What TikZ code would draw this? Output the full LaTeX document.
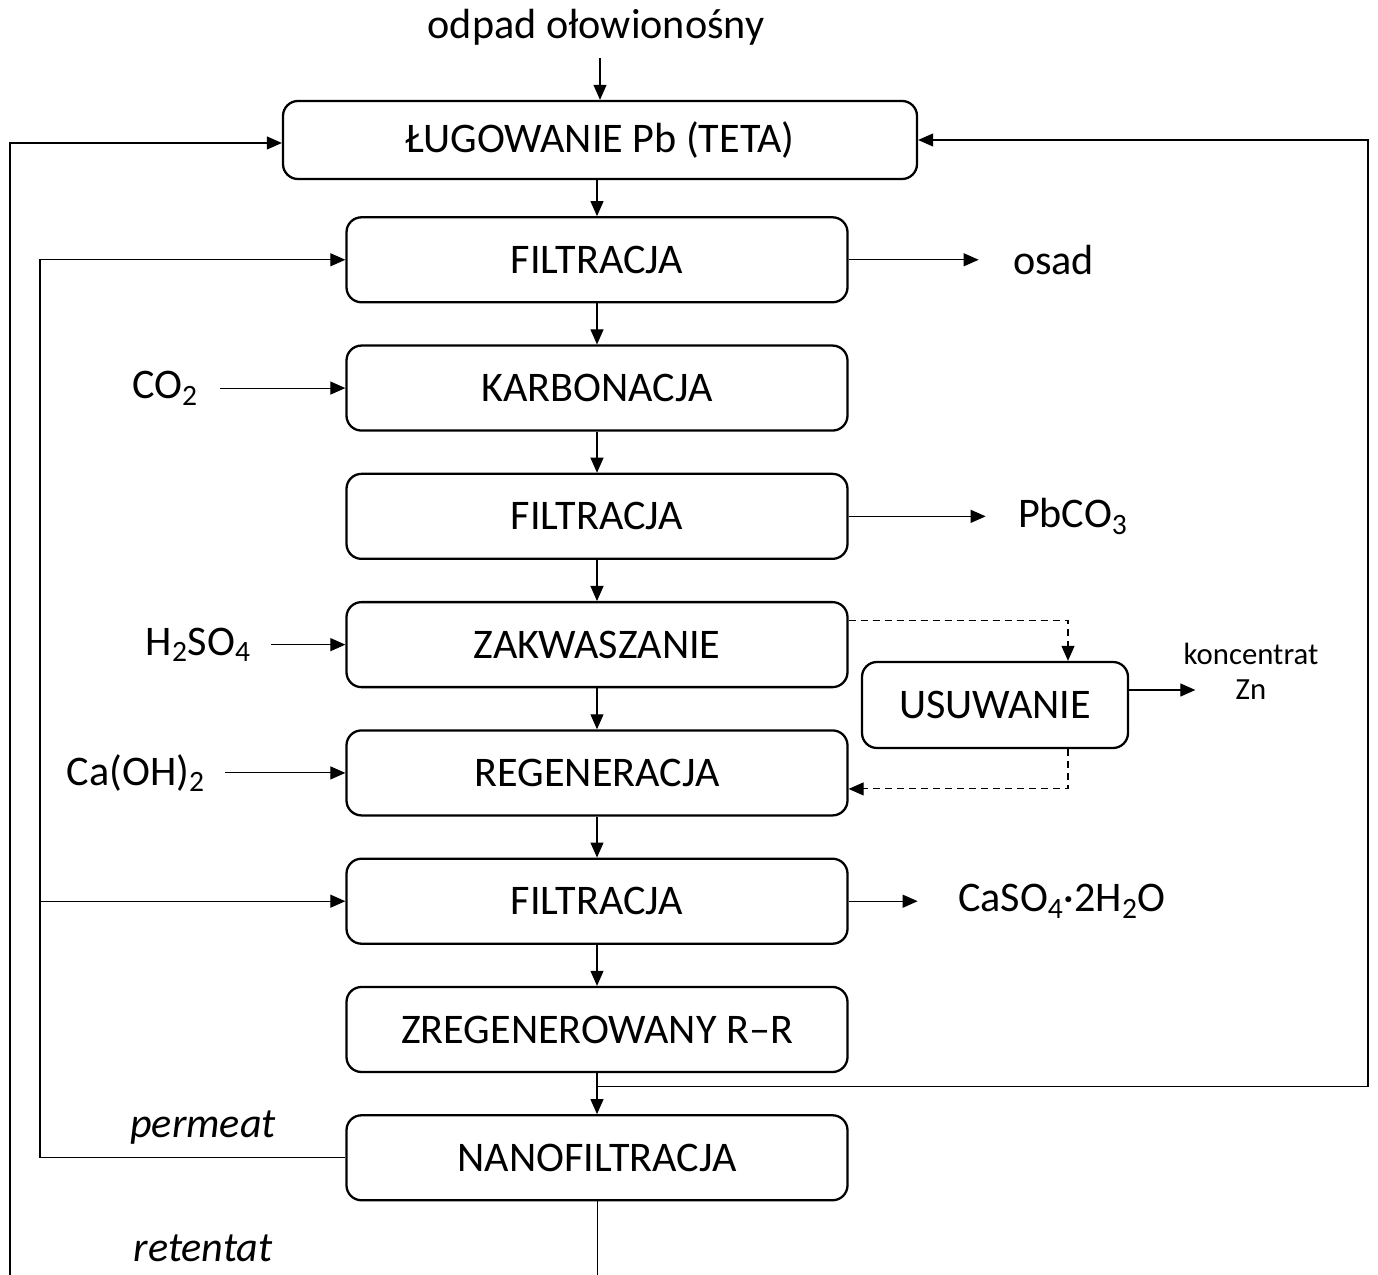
\documentclass[tikz,border=0pt]{standalone}
\usepackage{fontspec}
\setmainfont{Carlito}
\usetikzlibrary{positioning,arrows.meta}

\begin{document}
\begin{tikzpicture}[
    node distance=0.82cm,
    stage/.style={rectangle, draw, line width=1.3pt, rounded corners=0.3cm, minimum width=10.02cm, minimum height=1.7cm, font=\fontsize{24}{28}\selectfont},
    stream/.style={inner sep=0pt, font=\fontsize{24}{28}\selectfont},
    small/.style={inner sep=0pt, font=\fontsize{17.5}{21}\selectfont},
    arrow/.style={-{Triangle[length=0.3cm,width=0.26cm]}, line width=0.6pt},
    dasharrow/.style={arrow, dash pattern=on 0.14cm off 0.1cm}
]
\useasboundingbox (0,0) rectangle (27.56,-25.5);

% Main line
\node[stage, minimum width=12.68cm, minimum height=1.56cm] (lug) at (12.0,-2.8) {ŁUGOWANIE Pb (TETA)};
\node[stage, below=0.72cm of lug, xshift=-0.06cm] (filt1) {FILTRACJA};
\node[stage, below=of filt1] (karb) {KARBONACJA};
\node[stage, below=of karb] (filt2) {FILTRACJA};
\node[stage, below=of filt2] (zakw) {ZAKWASZANIE};
\node[stage, below=of zakw] (regen) {REGENERACJA};
\node[stage, below=of regen] (filt3) {FILTRACJA};
\node[stage, below=of filt3] (zreg) {ZREGENEROWANY R–R};
\node[stage, below=of zreg] (nano) {NANOFILTRACJA};

% Zn removal
\node[stage, minimum width=5.32cm, minimum height=1.72cm] (usuw) at (19.9,-14.1) {USUWANIE};

% Streams in and out
\node[stream] (odpad) at (11.92,-0.54) {odpad ołowionośny};
\node[stream, right=3.28cm of filt1] (osad) {osad};
\node[stream, left=2.94cm of karb] (co2) {CO\textsubscript{2}};
\node[stream, right=3.38cm of filt2] (pbco3) {PbCO\textsubscript{3}};
\node[stream, left=1.88cm of zakw] (h2so4) {H\textsubscript{2}SO\textsubscript{4}};
\node[stream, left=2.8cm of regen] (caoh) {Ca(OH)\textsubscript{2}};
\node[stream, right=2.18cm of filt3] (gips) {CaSO\textsubscript{4}·2H\textsubscript{2}O};
\node[small] (zn) at (25.02,-13.8) {Zn};
\node[small, above=0.3cm of zn] (konc) {koncentrat};
\node[stream, font=\fontsize{24}{28}\selectfont\itshape] (perm) at (4.06,-22.56) {permeat};
\node[stream, font=\fontsize{24}{28}\selectfont\itshape] (ret) at (4.06,-24.96) {retentat};

% Loop points
\coordinate (lbus) at (0.2,-25.5);
\coordinate (pbus) at (0.8,0);
\coordinate (rbus) at (27.36,0);

% Arrows down
\draw[arrow] ([yshift=-0.25cm]odpad.south -| lug.north) -- (lug.north);
\draw[arrow] (lug.south -| filt1.north) -- (filt1.north);
\draw[arrow] (filt1) -- (karb);
\draw[arrow] (karb) -- (filt2);
\draw[arrow] (filt2) -- (zakw);
\draw[arrow] (zakw) -- (regen);
\draw[arrow] (regen) -- (filt3);
\draw[arrow] (filt3) -- (zreg);
\draw[arrow] (zreg) -- (nano);
\draw (nano.south) -- (nano.south |- lbus);

% Side streams
\draw[arrow, shorten >=0.68cm] (filt1.east) -- (osad.west);
\draw[arrow, shorten <=0.44cm] (co2.east) -- (karb.west);
\draw[arrow, shorten >=0.64cm] (filt2.east) -- (filt2.east -| pbco3.west);
\draw[arrow, shorten <=0.4cm] (h2so4.east) -- (zakw.west);
\draw[arrow, shorten <=0.4cm] (caoh.east) -- (regen.west);
\draw[arrow, shorten >=0.8cm] (filt3.east) -- (filt3.east -| gips.west);
\draw[arrow, shorten >=0.8cm] (usuw.east |- zn) -- (zn.west);

% Zn branch
\draw[dasharrow] ([yshift=0.48cm]zakw.east) -| ([xshift=1.46cm]usuw.north);
\draw[dasharrow] ([xshift=1.46cm]usuw.south) |- ([yshift=-0.32cm]regen.east);

% Recycles
\draw[arrow] (lbus) |- ([yshift=-0.06cm]lug.west);
\draw[arrow] (nano.west) -- (nano.west -| pbus) |- (filt1.west);
\draw[arrow] (pbus |- filt3.west) -- (filt3.west);
\draw[arrow] ([yshift=-0.26cm]zreg.south) -| (rbus |- lug.east) -- (lug.east);

\end{tikzpicture}
\end{document}
